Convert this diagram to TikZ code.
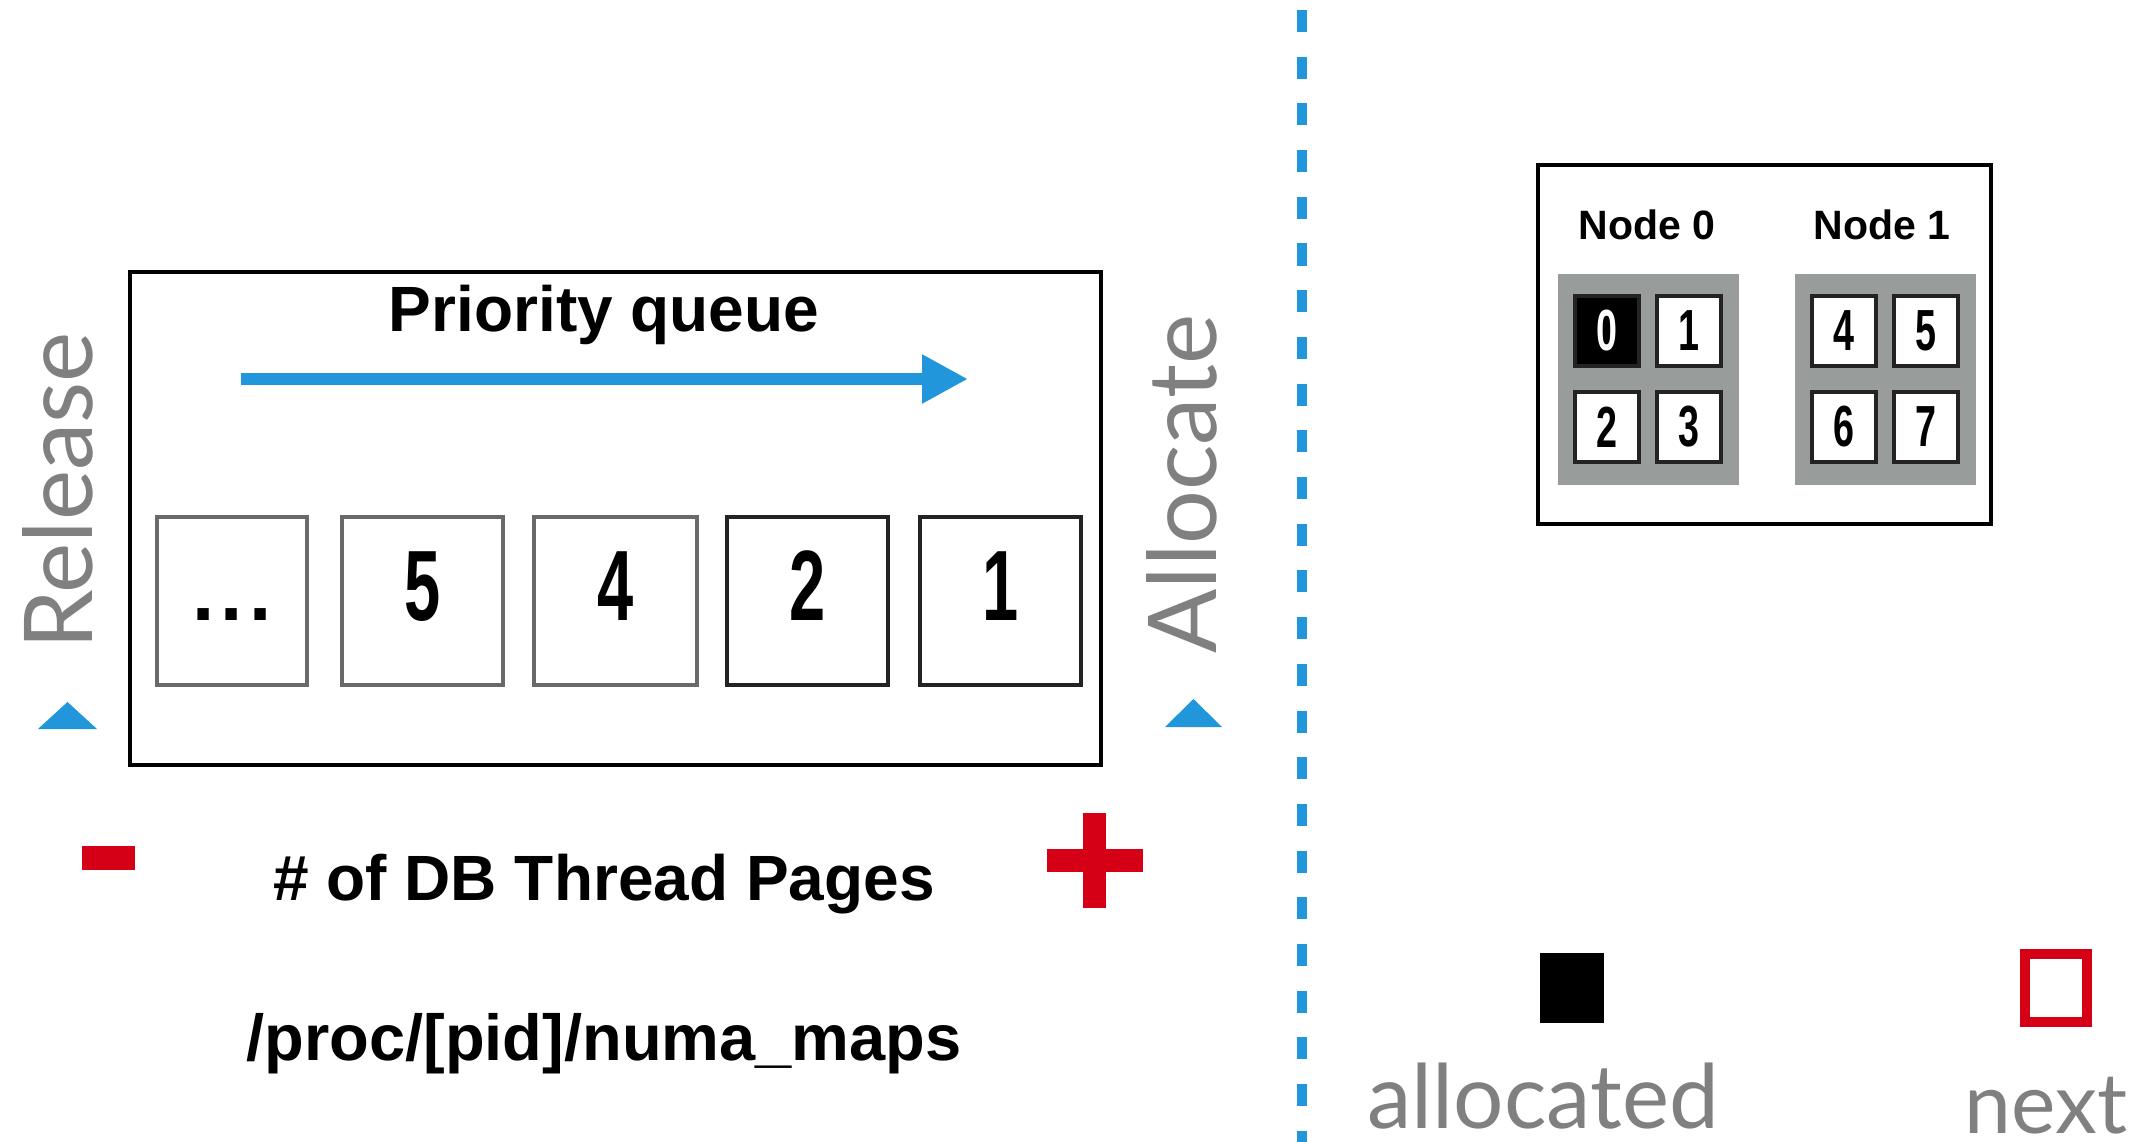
\documentclass[tikz,border=0pt]{standalone}
\usepackage{fontspec}
\setmainfont{Liberation Sans}
\newfontfamily\latofont{Lato}
\usetikzlibrary{arrows.meta}

\definecolor{qblue}{RGB}{33,150,218}
\definecolor{qred}{RGB}{214,0,22}
\definecolor{labelgray}{RGB}{128,128,128}
\definecolor{panelgray}{RGB}{152,156,154}
\definecolor{lightedge}{RGB}{105,105,105}
\definecolor{darkedge}{RGB}{35,35,35}

% narrow (condensed) digits
\newcommand\narrowdigits[1]{\scalebox{0.65}[1]{#1}}

\begin{document}
\begin{tikzpicture}[x=1pt,y=-1pt,
  frame/.style={draw=black,line width=4.5pt,inner sep=0pt},
  pagebox/.style={line width=3.5pt,minimum height=168pt,inner sep=0pt,
    text height=68pt,text depth=30pt,font=\fontsize{100}{100}\selectfont\bfseries},
  heading/.style={font=\fontsize{64}{70}\selectfont\bfseries,inner sep=0pt,anchor=base},
  sidelabel/.style={rotate=90,text=labelgray,font=\latofont\fontsize{95}{95}\selectfont,inner sep=0pt},
  legendlabel/.style={text=labelgray,inner sep=0pt,anchor=base},
  nodetitle/.style={font=\fontsize{41}{42}\selectfont\bfseries,inner sep=0pt,anchor=base},
  panel/.style={fill=panelgray,minimum width=181pt,minimum height=211pt,inner sep=0pt},
  cell/.style={draw=darkedge,line width=3.5pt,fill=white,minimum width=64pt,minimum height=70pt,
    inner sep=0pt,font=\fontsize{58}{58}\selectfont\bfseries},
]
\useasboundingbox (0,0) rectangle (2139,1142);
\fill[white] (0,0) rectangle (2139,1142);

% ---- priority queue -------------------------------------------------
\node[frame,minimum width=971pt,minimum height=493pt] (queue) at (615.5,518.5) {};
\node[heading] (qtitle) at (604,331) {Priority queue};
\coordinate (qstart) at (241,379);
\coordinate (qend) at (968,379);
\draw[qblue,line width=12pt,-{Triangle[length=46pt,width=46pt]}] (qstart) -- (qend);

\node[pagebox,draw=lightedge,minimum width=150pt] (p0) at (232,601)
  {\fontsize{80}{80}\selectfont.\hspace{6pt}.\hspace{6pt}.};
\node[pagebox,draw=lightedge,minimum width=161pt] (p5) at (422.5,601) {\narrowdigits{5}};
\node[pagebox,draw=lightedge,minimum width=163pt] (p4) at (615.5,601) {\narrowdigits{4}};
\node[pagebox,draw=darkedge,minimum width=161pt] (p2) at (807.5,601) {\narrowdigits{2}};
\node[pagebox,draw=darkedge,minimum width=161pt] (p1) at (1000.5,601) {\narrowdigits{1}};

% release / allocate sides
\node[sidelabel] (release) at (57.5,491) {Release};
\node[sidelabel] (allocate) at (1182,484) {Allocate};
\fill[qblue] (38,729) -- (97,729) -- (67.5,702) -- cycle;
\fill[qblue] (1165,727) -- (1222,727) -- (1193.5,699) -- cycle;

% fewer / more pages
\node[fill=qred,minimum width=53pt,minimum height=24pt,inner sep=0pt] (minus) at (108.5,858) {};
\fill[qred] (1047,849) rectangle (1143,872);
\fill[qred] (1083,813) rectangle (1106,908);
\node[heading] (pages) at (604,900) {\# of DB Thread Pages};
\node[heading,font=\fontsize{65}{70}\selectfont\bfseries] (numamaps) at (604,1060) {/proc/[pid]/numa\_maps};

% ---- divider ---------------------------------------------------------
\coordinate (divtop) at (1302,10);
\coordinate (divbot) at (1302,1142);
\draw[qblue,line width=10pt,dash pattern=on 22pt off 24.7pt] (divtop) -- (divbot);

% ---- NUMA nodes --------------------------------------------------------
\node[frame,minimum width=453pt,minimum height=359pt] (numa) at (1764.5,344.5) {};
\node[nodetitle] (n0title) at (1647,240) {Node 0};
\node[nodetitle] (n1title) at (1882,240) {Node 1};
\node[panel] (n0) at (1648.5,379.5) {};
\node[panel] (n1) at (1885.5,379.5) {};

\node[cell,fill=black,text=white] (c0) at (1607,331) {\narrowdigits{0}};
\node[cell] (c1) at (1689,331) {\narrowdigits{1}};
\node[cell] (c2) at (1607,427) {\narrowdigits{2}};
\node[cell] (c3) at (1689,427) {\narrowdigits{3}};
\node[cell] (c4) at (1844,331) {\narrowdigits{4}};
\node[cell] (c5) at (1926,331) {\narrowdigits{5}};
\node[cell] (c6) at (1844,427) {\narrowdigits{6}};
\node[cell] (c7) at (1926,427) {\narrowdigits{7}};

% ---- legend ------------------------------------------------------------
\node[fill=black,minimum width=64pt,minimum height=70pt,inner sep=0pt] (allocsq) at (1572,988) {};
\node[draw=qred,line width=10pt,minimum width=62pt,minimum height=68pt,inner sep=0pt] (nextsq) at (2056,988) {};
\node[legendlabel,font=\latofont\fontsize{89}{89}\selectfont] (alloctext) at (1543,1128) {allocated};
\node[legendlabel,font=\latofont\fontsize{84}{84}\selectfont] (nexttext) at (2046,1133) {next};
\end{tikzpicture}
\end{document}
